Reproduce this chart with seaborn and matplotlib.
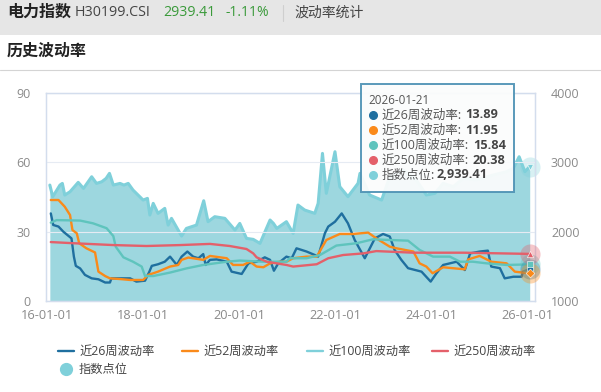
import matplotlib
matplotlib.use('Agg')
import seaborn as sns

from matplotlib import pyplot as plt
from matplotlib.lines import Line2D
from matplotlib.patches import Rectangle

# index level (right axis)
INDEX_X = [2016.06, 2016.12, 2016.27, 2016.32, 2016.37, 2016.48, 2016.65, 2016.76, 2016.93, 2017.03, 2017.14, 2017.23,
           2017.30, 2017.38, 2017.52, 2017.60,
           2017.69, 2017.79, 2018.00, 2018.09, 2018.14, 2018.21, 2018.31, 2018.45, 2018.52, 2018.59, 2018.80, 2018.90,
           2019.11, 2019.26, 2019.35, 2019.49, 2019.70, 2019.91, 2020.01, 2020.15, 2020.29, 2020.43, 2020.64, 2020.71,
           2020.78, 2020.88, 2020.98,
           2021.12, 2021.22, 2021.36, 2021.57, 2021.64, 2021.73, 2021.81, 2021.99, 2022.09, 2022.26, 2022.47, 2022.51,
           2022.71, 2022.96, 2023.13, 2023.41, 2023.68, 2023.89, 2024.07, 2024.24, 2024.45, 2024.66, 2024.93, 2025.28,
           2025.56, 2025.70, 2025.82, 2025.94, 2026.04]
INDEX_Y = [2672, 2504, 2672, 2696, 2528, 2576, 2711, 2624, 2792, 2696, 2720, 2768,
           2841, 2672, 2696, 2672,
           2696, 2600, 2456, 2480, 2240, 2408, 2264, 2336, 2095, 2192, 1937, 2047,
           2095, 2446, 2144, 2216, 2192, 2023, 2119, 1903, 1889, 1831, 2168, 2119,
           2047, 2095, 2144,
           1976, 2384, 2312, 2264, 2408, 3129, 2553, 3153, 2649, 2505, 2697, 2841,
           2529, 2456, 2793, 2889, 2745, 2529, 2553, 2697, 2649, 2769, 2745, 2817,
           2865, 2913, 3081, 2865, 2939.41]

VOL26_X = [2016.08, 2016.13, 2016.24, 2016.34, 2016.51, 2016.56, 2016.60, 2016.69, 2016.79, 2016.93, 2017.07, 2017.21,
           2017.31, 2017.34, 2017.52, 2017.73, 2017.86, 2018.04, 2018.13, 2018.18, 2018.31, 2018.45, 2018.56, 2018.70,
           2018.80, 2018.92, 2019.04, 2019.15, 2019.25, 2019.30, 2019.39, 2019.53, 2019.74, 2019.84, 2020.05, 2020.19,
           2020.36, 2020.53, 2020.64, 2020.72, 2020.81, 2020.98, 2021.09, 2021.19, 2021.40, 2021.57, 2021.64, 2021.78,
           2021.85, 2021.99, 2022.13, 2022.26, 2022.40, 2022.61, 2022.82, 2022.99, 2023.13, 2023.23, 2023.37, 2023.51,
           2023.79, 2023.98, 2024.10, 2024.24, 2024.52, 2024.69, 2024.80, 2025.00, 2025.17, 2025.24, 2025.42, 2025.52,
           2025.70, 2025.87, 2025.90, 2026.04]
VOL26_Y = [37.9, 32.9, 32.2, 30, 27.1, 19.2, 15.2, 14.1, 11.3, 9.8, 9.4, 8,
           8, 9.8, 9.8, 9.8, 8.4, 8.8, 12.7, 15.2, 15.9, 17, 19.2, 15.6,
           19.2, 21.4, 19.2, 18.5, 20.3, 15.6, 17.8, 18, 17, 12.7, 11.7, 16.3,
           17, 18.9, 17.8, 13.1, 16.3, 19.2, 18.5, 22.8, 21.4, 19.9, 19.2, 29.3,
           32.2, 34.3, 37.9, 33.6, 26.4, 18.5, 27.1, 29, 27.9, 22.1, 17.8, 14.2,
           12.7, 8.4, 12, 15.6, 17, 13.4, 20.6, 21.4, 21.8, 14.9, 14.2, 9.8,
           10.5, 10.5, 12.7, 13.89]

VOL52_X = [2016.08, 2016.24, 2016.37, 2016.48, 2016.53, 2016.62, 2016.67, 2016.82, 2017.00, 2017.07, 2017.21, 2017.31,
           2017.52, 2017.73, 2018.00, 2018.11, 2018.31, 2018.56, 2018.73, 2018.80, 2018.94, 2019.25, 2019.39, 2019.74,
           2019.87, 2020.08, 2020.22, 2020.36, 2020.50, 2020.64, 2020.84, 2020.98, 2021.12, 2021.40, 2021.61, 2021.81,
           2022.09, 2022.37, 2022.68, 2022.85, 2023.13, 2023.27, 2023.62, 2023.75, 2023.89, 2024.02, 2024.24, 2024.69,
           2024.76, 2025.00, 2025.24, 2025.56, 2025.73, 2026.04]
VOL52_Y = [43.7, 43.7, 40.8, 37.2, 30.7, 29.3, 25, 22.8, 21, 12.7, 10.8, 9.8,
           9.5, 9.1, 9.1, 11.3, 12.7, 14.9, 15.6, 17.8, 18.8, 17.8, 19.5, 18.5,
           15.6, 15.6, 17, 14.9, 14.6, 16.3, 17, 17, 18.5, 19.2, 19.2, 26.4,
           29, 29, 29.6, 27.1, 23.5, 22.8, 21.4, 16.3, 14.9, 12, 14.6, 13.7,
           18, 19.5, 17, 16.3, 12.7, 11.95]

VOL100_X = [2016.08, 2016.20, 2016.69, 2016.96, 2017.24, 2017.38, 2017.43, 2017.59, 2017.79, 2017.97, 2018.04, 2018.21,
            2018.56, 2018.90, 2019.25, 2019.74, 2020.01, 2020.50, 2020.98, 2021.05, 2021.40, 2021.68, 2022.02, 2022.44,
            2022.78, 2023.13, 2023.51, 2023.75, 2024.03, 2024.38, 2024.59, 2024.86, 2025.14, 2025.56, 2026.04]
VOL100_Y = [33.9, 35, 34.8, 33.6, 31.5, 28.1, 23.5, 18.9, 17, 14.9, 10.8, 10.8,
            12.3, 14.1, 15.6, 17, 17.5, 17, 17, 18.5, 18.5, 19.9, 24, 25,
            26.7, 26.4, 26.1, 22.1, 19.2, 19.2, 17, 17, 16.3, 15.6, 15.84]

VOL250_X = [2016.08, 2016.55, 2017.38, 2018.07, 2018.77, 2019.39, 2019.80, 2020.15, 2020.29, 2020.36, 2020.57, 2020.98,
            2021.12, 2021.61, 2021.85, 2022.16, 2022.58, 2022.85, 2023.62, 2024.66, 2026.04]
VOL250_Y = [25.5, 25, 24.2, 23.8, 24.2, 24.7, 23.8, 22.5, 20.6, 18.9, 17, 15.6,
            14.9, 15.9, 18.5, 19.9, 20.6, 21.6, 20.9, 20.9, 20.38]

X_TICKS = [2016, 2018, 2020, 2022, 2024, 2026]
X_LABELS = ['16-01-01', '18-01-01', '20-01-01', '22-01-01', '24-01-01', '26-01-01']

C26 = '#1f6f9f'
C52 = '#fa8a1a'
C100 = '#5fc4bd'
C250 = '#e4606a'
CINDEX = '#7fd0da'
CFILL = '#9dd7df'
AXIS = '#d3dded'
GRAY = '#8a8a8a'

W, H = 601, 392


def fx(px):
    return px / W


def fy(py):
    return 1 - py / H


def main():
    sns.set_theme(style='white')
    plt.rcParams['font.family'] = ['Open Sans', 'Noto Sans CJK SC', 'DejaVu Sans']

    fig = plt.figure(figsize=(W / 100, H / 100), dpi=100, facecolor='white')

    ## page header ##
    fig.add_artist(Rectangle((0, fy(35)), 1, 35 / H, transform=fig.transFigure, color='#e6e6e6', lw=0))
    fig.add_artist(Line2D([0, 1], [fy(70), fy(70)], transform=fig.transFigure, color='#d4d4d4', lw=0.8))
    fig.add_artist(Line2D([fx(283), fx(283)], [fy(5), fy(21)], transform=fig.transFigure, color='#cfcfcf', lw=0.8))
    fig.text(fx(7), fy(13), '电力指数', fontsize=11.5, fontweight='bold', color='#222222', va='center')
    fig.text(fx(75), fy(13), 'H30199.CSI', fontsize=10.3, color='#444444', va='center')
    fig.text(fx(163), fy(13), '2939.41', fontsize=10.2, color='#3a9a3a', va='center')
    fig.text(fx(226), fy(13), '-1.11%', fontsize=10, color='#3a9a3a', va='center')
    fig.text(fx(294), fy(13), '波动率统计', fontsize=10, color='#444444', va='center')
    fig.text(fx(7), fy(52), '历史波动率', fontsize=11.5, fontweight='bold', color='#222222', va='center')

    ## chart ##
    ax = fig.add_axes([fx(46), fy(301), (535 - 46) / W, (301 - 93) / H])
    ax2 = ax.twinx()
    ax.set_zorder(ax2.get_zorder() + 1)
    ax.patch.set_visible(False)

    ax2.fill_between(INDEX_X, 1000, INDEX_Y, color=CFILL, lw=0)
    sns.lineplot(x=INDEX_X, y=INDEX_Y, color=CINDEX, lw=2.2, estimator=None, sort=False, ax=ax2)

    series = [(VOL26_X, VOL26_Y, C26), (VOL52_X, VOL52_Y, C52), (VOL100_X, VOL100_Y, C100), (VOL250_X, VOL250_Y, C250)]
    for xs, ys, color in series:
        sns.lineplot(x=xs, y=ys, color=color, lw=1.7, estimator=None, sort=False, ax=ax)

    # highlighted end points
    ends = [(VOL26_X, VOL26_Y, C26, 'o'), (VOL100_X, VOL100_Y, C100, 's'),
            (VOL250_X, VOL250_Y, C250, '^'), (VOL52_X, VOL52_Y, C52, 'D')]
    for xs, ys, color, marker in ends:
        ax.scatter(xs[-1], ys[-1], s=210, color=color, alpha=0.35, lw=0, clip_on=False, zorder=6)
        ax.scatter(xs[-1], ys[-1], s=20, color=color, marker=marker, edgecolor='white', lw=0.4, clip_on=False, zorder=7)
    ax2.scatter(INDEX_X[-1], INDEX_Y[-1], s=210, color=CINDEX, alpha=0.3, lw=0, clip_on=False, zorder=6)
    ax2.scatter(INDEX_X[-1], INDEX_Y[-1], s=18, color=CINDEX, marker='v', edgecolor='white', lw=0.4, zorder=7)

    ax.set_xlim(2015.98, 2026.15)
    ax.set_ylim(0, 90)
    ax2.set_ylim(1000, 4000)
    ax.set_xticks(X_TICKS)
    ax.set_xticklabels(X_LABELS)
    ax.set_yticks([0, 30, 60, 90])
    ax2.set_yticks([1000, 2000, 3000, 4000])
    ax.set_xlabel('')
    ax.set_ylabel('')
    ax.grid(axis='y', color='#e6ebf3', lw=0.8)
    ax.set_axisbelow(True)
    ax.tick_params(axis='x', length=4, width=0.8, color=AXIS, labelsize=9.2, labelcolor=GRAY, pad=2)
    ax.tick_params(axis='y', length=0, labelsize=9, labelcolor=GRAY, pad=11)
    ax2.tick_params(axis='y', length=0, labelsize=9, labelcolor=GRAY, pad=11.5)
    for a in (ax, ax2):
        for spine in a.spines.values():
            spine.set_color(AXIS)
            spine.set_linewidth(0.9)

    ## legend ##
    legend_items = [(58, '近26周波动率', C26), (182, '近52周波动率', C52),
                    (307, '近100周波动率', CINDEX), (432, '近250周波动率', C250)]
    for px, label, color in legend_items:
        fig.add_artist(Line2D([fx(px), fx(px + 16)], [fy(351), fy(351)], transform=fig.transFigure, color=color, lw=1.7))
        fig.text(fx(px + 21), fy(351), label, fontsize=8.8, color='#444444', va='center')
    fig.add_artist(Line2D([fx(66)], [fy(369)], transform=fig.transFigure, marker='o', ms=8.5, color=CINDEX, lw=0))
    fig.text(fx(79), fy(369), '指数点位', fontsize=8.8, color='#444444', va='center')

    ## tooltip ##
    fig.add_artist(Rectangle((fx(361), fy(192)), (514 - 361) / W, (192 - 84) / H, transform=fig.transFigure,
                             facecolor='#fbfcfc', alpha=0.94, edgecolor='#4f93b5', lw=1.4, zorder=5))
    fig.text(fx(368), fy(100), '2026-01-21', fontsize=8.4, color='#555555', va='center', zorder=6)
    rows = [(115, C26, '近26周波动率:', '13.89', 465), (130, C52, '近52周波动率:', '11.95', 465),
            (145, C100, '近100周波动率:', '15.84', 473), (160, C250, '近250周波动率:', '20.38', 473),
            (175, CINDEX, '指数点位:', '2,939.41', 437)]
    for py, color, label, value, value_x in rows:
        fig.add_artist(Line2D([fx(373)], [fy(py)], transform=fig.transFigure, marker='o', ms=5.5, color=color, lw=0, zorder=6))
        fig.text(fx(382), fy(py), label, fontsize=9, color='#555555', va='center', zorder=6)
        fig.text(fx(value_x), fy(py), value, fontsize=9.2, fontweight='bold', color='#444444', va='center', zorder=6)

    fig.savefig('out.png', dpi=100)


if __name__ == '__main__':
    main()
